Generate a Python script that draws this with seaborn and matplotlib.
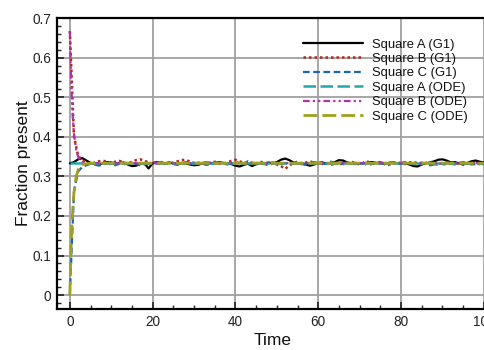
import matplotlib
matplotlib.use("Agg")
import matplotlib.pyplot as plt
from matplotlib.ticker import MultipleLocator, FuncFormatter
import numpy as np
import pandas as pd
import seaborn as sns

# ODE solution (fine time steps near the start, then steady state)
ode_t = [0, 0.25, 0.5, 0.75, 1, 1.5, 2, 2.5, 3, 4, 5, 6, 8, 10, 20, 40, 60, 80, 100]
ode_a = [0.3333] * len(ode_t)
ode_b = [0.667, 0.562, 0.491, 0.441, 0.408, 0.369, 0.350, 0.341, 0.337, 0.334,
         0.3335, 0.3334, 0.3333, 0.3333, 0.3333, 0.3333, 0.3333, 0.3333, 0.3333]
ode_c = [0.000, 0.105, 0.176, 0.226, 0.259, 0.298, 0.317, 0.326, 0.330, 0.332,
         0.3331, 0.3332, 0.3333, 0.3333, 0.3333, 0.3333, 0.3333, 0.3333, 0.3333]

# G1 simulation, sampled once per time unit
g1_t = list(range(0, 101))
g1_a = [0.333, 0.336, 0.343, 0.346, 0.340, 0.334, 0.331, 0.330, 0.333, 0.336,
        0.335, 0.332, 0.334, 0.335, 0.330, 0.326, 0.327, 0.331, 0.334, 0.320,
        0.333, 0.336, 0.334, 0.333, 0.335, 0.333, 0.331, 0.334, 0.333, 0.330,
        0.328, 0.329, 0.333, 0.335, 0.334, 0.333, 0.336, 0.334, 0.333, 0.331,
        0.327, 0.325, 0.329, 0.332, 0.326, 0.331, 0.334, 0.333, 0.335, 0.333,
        0.336, 0.342, 0.345, 0.341, 0.335, 0.333, 0.331, 0.330, 0.327, 0.330,
        0.334, 0.335, 0.332, 0.334, 0.336, 0.341, 0.340, 0.335, 0.333, 0.334,
        0.332, 0.333, 0.335, 0.336, 0.334, 0.333, 0.331, 0.334, 0.335, 0.333,
        0.332, 0.333, 0.330, 0.326, 0.325, 0.330, 0.333, 0.335, 0.338, 0.342,
        0.343, 0.340, 0.335, 0.336, 0.333, 0.331, 0.334, 0.338, 0.340, 0.337,
        0.335]
g1_b = [0.667, 0.400, 0.352, 0.340, 0.336, 0.331, 0.335, 0.338, 0.340, 0.336,
        0.333, 0.337, 0.339, 0.335, 0.332, 0.337, 0.341, 0.343, 0.339, 0.336,
        0.331, 0.334, 0.336, 0.333, 0.331, 0.335, 0.338, 0.341, 0.342, 0.337,
        0.334, 0.333, 0.336, 0.332, 0.334, 0.337, 0.333, 0.331, 0.335, 0.339,
        0.342, 0.338, 0.334, 0.331, 0.335, 0.333, 0.337, 0.334, 0.331, 0.335,
        0.330, 0.326, 0.319, 0.327, 0.334, 0.337, 0.332, 0.335, 0.338, 0.334,
        0.331, 0.336, 0.333, 0.329, 0.332, 0.336, 0.331, 0.334, 0.337, 0.333,
        0.330, 0.335, 0.337, 0.332, 0.334, 0.336, 0.331, 0.329, 0.334, 0.336,
        0.333, 0.331, 0.335, 0.337, 0.333, 0.330, 0.334, 0.336, 0.332, 0.329,
        0.333, 0.336, 0.334, 0.331, 0.333, 0.329, 0.332, 0.335, 0.333, 0.331,
        0.334]
g1_c = [0.000, 0.262, 0.312, 0.324, 0.328, 0.332, 0.330, 0.327, 0.330, 0.333,
        0.330, 0.328, 0.332, 0.330, 0.333, 0.335, 0.331, 0.328, 0.330, 0.333,
        0.337, 0.333, 0.330, 0.332, 0.335, 0.331, 0.329, 0.333, 0.336, 0.334,
        0.331, 0.335, 0.332, 0.329, 0.331, 0.334, 0.336, 0.333, 0.330, 0.333,
        0.334, 0.336, 0.333, 0.338, 0.335, 0.330, 0.333, 0.331, 0.328, 0.332,
        0.334, 0.331, 0.334, 0.331, 0.333, 0.336, 0.334, 0.331, 0.333, 0.336,
        0.334, 0.331, 0.333, 0.337, 0.334, 0.330, 0.332, 0.335, 0.333, 0.331,
        0.334, 0.332, 0.329, 0.331, 0.334, 0.336, 0.333, 0.336, 0.333, 0.331,
        0.334, 0.336, 0.333, 0.330, 0.332, 0.335, 0.331, 0.328, 0.330, 0.333,
        0.331, 0.329, 0.332, 0.330, 0.334, 0.336, 0.333, 0.330, 0.331, 0.333,
        0.330]

x_ticks = [0, 20, 40, 60, 80, 100]
y_ticks = [0, 0.1, 0.2, 0.3, 0.4, 0.5, 0.6, 0.7]

sns.set_theme(style="white")
plt.rcParams["font.family"] = ["Liberation Sans", "DejaVu Sans"]

fig = plt.figure(figsize=(4.85, 3.5), dpi=100)
ax = fig.add_axes([57 / 485, 41 / 350, 431 / 485, 291 / 350])

series = [
    (g1_t, g1_a, "Square A (G1)", "#000000", "-", 1.6),
    (g1_t, g1_b, "Square B (G1)", "#b0281a", (0, (1, 1.2)), 1.8),
    (g1_t, g1_c, "Square C (G1)", "#1a66b0", (0, (3, 1.6)), 1.6),
    (ode_t, ode_a, "Square A (ODE)", "#22a8a8", (0, (5, 1.8)), 1.8),
    (ode_t, ode_b, "Square B (ODE)", "#b030b0", (0, (3, 1.4, 1, 1.4, 1, 1.4)), 1.6),
    (ode_t, ode_c, "Square C (ODE)", "#a0a020", (0, (5, 1.8)), 2.0),
]
for t, v, name, col, ls, lw in series:
    sns.lineplot(x=t, y=v, ax=ax, color=col, linestyle=ls, linewidth=lw,
                 label=name, estimator=None, sort=False)

ax.set_xlim(-3.1, 101)
ax.set_ylim(-0.035, 0.7)
ax.set_xticks(x_ticks)
ax.set_yticks(y_ticks)
ax.xaxis.set_minor_locator(MultipleLocator(5))
ax.yaxis.set_minor_locator(MultipleLocator(0.02))
ax.yaxis.set_major_formatter(FuncFormatter(lambda v, p: f"{v:g}"))
ax.tick_params(which="major", direction="in", length=5, width=1.2,
               labelsize=9.8, colors="#222222", pad=4, bottom=True, left=True)
ax.tick_params(which="minor", direction="in", length=3, width=1,
               bottom=True, left=True)
ax.grid(True, which="major", color="#a0a0a0", linewidth=1.3)
ax.set_axisbelow(True)

for side in ["left", "bottom", "top"]:
    ax.spines[side].set_visible(True)
    ax.spines[side].set_color("black")
    ax.spines[side].set_linewidth(1.6)
ax.spines["right"].set_visible(False)

ax.set_xlabel("Time", fontsize=12.5, color="#111111", labelpad=3)
ax.set_ylabel("Fraction present", fontsize=12.5, color="#111111", labelpad=1)

leg = ax.legend(loc="upper left", bbox_to_anchor=(246 / 431, 0.93), frameon=False,
                fontsize=9.4, handlelength=4.6, handletextpad=0.7,
                labelspacing=0.18, borderpad=0, borderaxespad=0)
for txt in leg.get_texts():
    txt.set_color("#111111")

fig.savefig("out.png", dpi=100)
